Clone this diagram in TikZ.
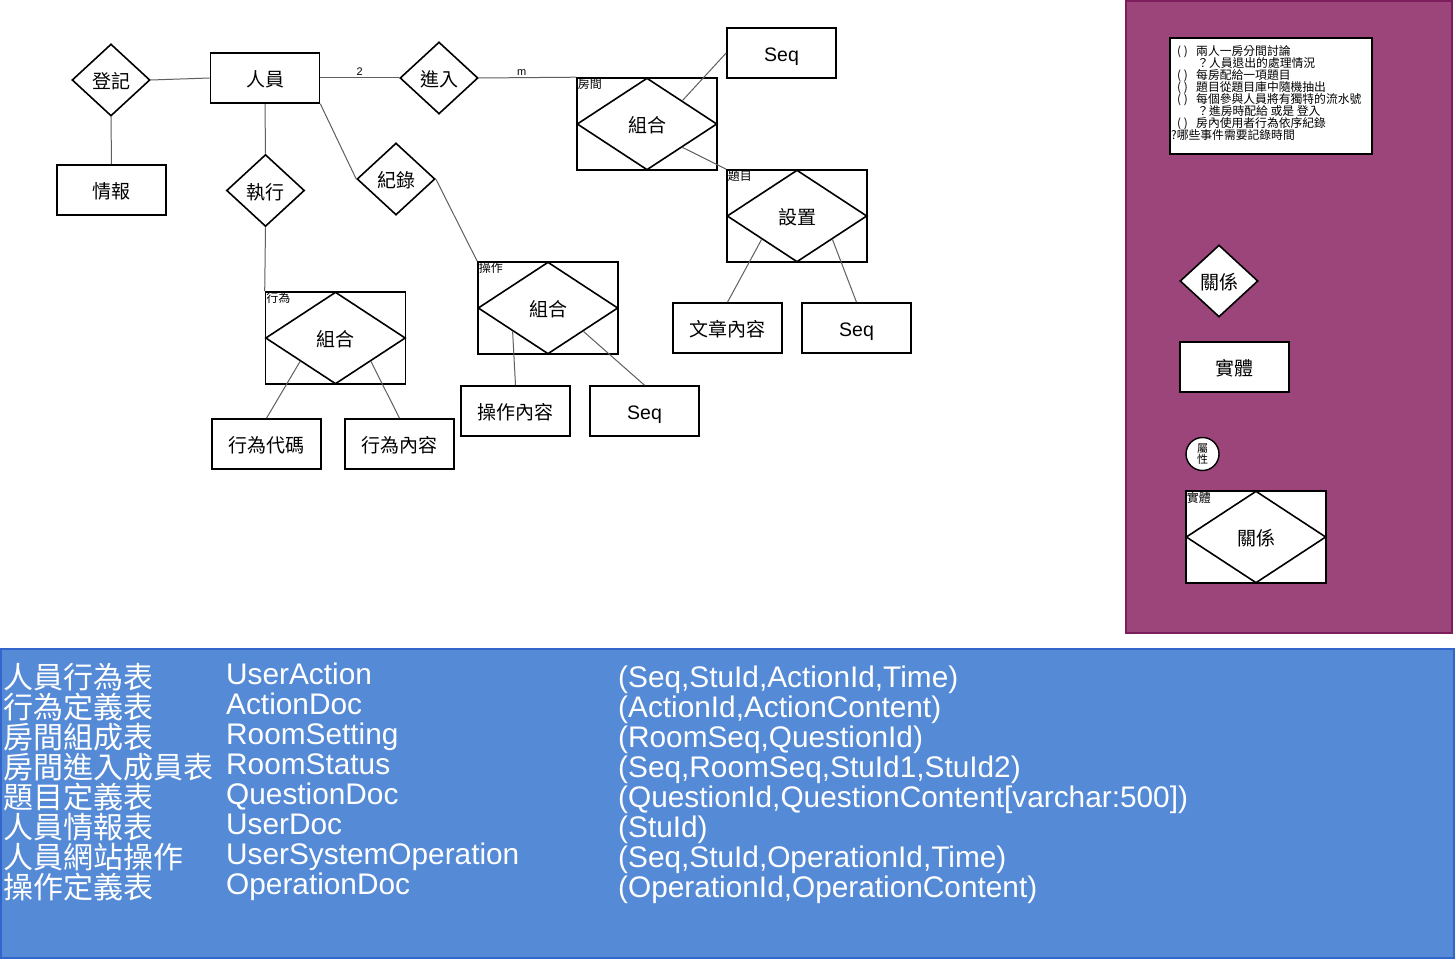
\documentclass[tikz,border=0pt]{standalone}
\usepackage{fontspec}
\setmainfont{Liberation Sans}
\newfontfamily\cjk{Noto Sans CJK TC}
\usetikzlibrary{shapes.geometric}
\definecolor{purp}{RGB}{155,69,123}
\definecolor{purpb}{RGB}{125,30,92}
\definecolor{bluef}{RGB}{85,138,214}
\definecolor{blueb}{RGB}{51,102,204}
\definecolor{connc}{RGB}{95,95,95}
\begin{document}
\begin{tikzpicture}[x=1pt,y=-1pt,
  ent/.style={draw=black, line width=1.6pt, fill=white, minimum width=109pt, minimum height=50pt, inner sep=0pt, text height=19.5pt, text depth=2.3pt, font=\cjk\fontsize{19}{19}\selectfont},
  seqbox/.style={ent, font=\fontsize{19.5}{19.5}\selectfont},
  rel/.style={diamond, draw=black, line width=1.6pt, fill=white, minimum width=78pt, minimum height=72pt, inner sep=0pt, text height=19.5pt, text depth=2.3pt, font=\cjk\fontsize{19}{19}\selectfont},
  agg/.style={draw=black, line width=1.6pt, fill=white, minimum width=140pt, minimum height=92pt, inner sep=0pt},
  aggd/.style={diamond, draw=black, line width=1.6pt, minimum width=140pt, minimum height=92pt, inner sep=0pt, text height=19.5pt, text depth=2.3pt, font=\cjk\fontsize{19}{19}\selectfont},
  corner/.style={anchor=north west, inner sep=1.5pt, font=\cjk\fontsize{12}{12}\selectfont},
  conn/.style={draw=connc, line width=1pt},
  card/.style={font=\fontsize{11}{11}\selectfont, inner sep=1pt},
  notel/.style={anchor=base west, inner sep=0pt, font=\cjk\fontsize{11.8}{12}\selectfont},
  zhcol/.style={anchor=base west, inner sep=0pt, text=white, font=\cjk\fontsize{30}{30}\selectfont},
  encol/.style={anchor=base west, inner sep=0pt, text=white, font=\fontsize{29.8}{30}\selectfont}
]
\useasboundingbox (0,0) rectangle (1456,960);
\fill[white] (0,0) rectangle (1456,960);

% legend panel
\draw[fill=purp, draw=purpb, line width=1.5pt] (1126,1) rectangle (1452,633);
\node[draw=black, line width=1.4pt, fill=white, minimum width=202pt, minimum height=116pt, inner sep=0pt] (note) at (1271,96) {};
\node[notel] (n1) at (1177,56) {\makebox[19pt][l]{( )}兩人一房分間討論};
\node[notel] (n2) at (1197,68) {？人員退出的處理情況};
\node[notel] (n3) at (1177,80) {\makebox[19pt][l]{( )}每房配給一項題目};
\node[notel] (n4) at (1177,92) {\makebox[19pt][l]{( )}題目從題目庫中隨機抽出};
\node[notel] (n5) at (1177,104) {\makebox[19pt][l]{( )}每個參與人員將有獨特的流水號};
\node[notel] (n6) at (1197,116) {？進房時配給 或是 登入};
\node[notel] (n7) at (1177,128) {\makebox[19pt][l]{( )}房內使用者行為依序紀錄};
\node[notel] (n8) at (1171,140) {?哪些事件需要記錄時間};

\node[rel] (lgrel) at (1219,281) {關係};
\node[ent] (lgent) at (1234.5,367) {實體};
\node[circle, draw=black, line width=1.4pt, fill=white, minimum size=33pt, inner sep=0pt, align=center, font=\cjk\fontsize{11}{11}\selectfont] (lgattr) at (1202.5,454) {屬\\性};
\node[agg] (lgagg) at (1256,537) {};
\node[aggd] (lgaggd) at (1256,537) {關係};
\node[corner] (lgaggl) at (lgagg.north west) {實體};

% ER diagram
\node[rel] (dj) at (111,80) {登記};
\node[ent] (person) at (265,78) {人員};
\node[ent] (info) at (111.5,190) {情報};
\node[rel] (zx) at (265.5,190.5) {執行};
\node[rel] (jl) at (396,179) {紀錄};
\node[rel] (jr) at (439,78) {進入};

\node[agg] (room) at (647,124) {};
\node[aggd] (roomd) at (647,124) {組合};
\node[corner] (rooml) at (room.north west) {房間};
\node[seqbox] (seq1) at (781.5,53) {Seq};

\node[agg] (topic) at (797,216) {};
\node[aggd] (topicd) at (797,216) {設置};
\node[corner] (topicl) at (topic.north west) {題目};
\node[ent] (wz) at (727.5,328) {文章內容};
\node[seqbox] (seq2) at (856.5,328) {Seq};

\node[agg] (act) at (335.5,338) {};
\node[aggd] (actd) at (335.5,338) {組合};
\node[corner] (actl) at (act.north west) {行為};
\node[ent] (acode) at (266.5,444) {行為代碼};
\node[ent] (acont) at (399.5,444) {行為內容};

\node[agg] (op) at (548,308) {};
\node[aggd] (opd) at (548,308) {組合};
\node[corner] (opl) at (op.north west) {操作};
\node[ent] (opc) at (515.5,411) {操作內容};
\node[seqbox] (seq3) at (644.5,411) {Seq};

% connectors
\draw[conn] (dj.east) -- (person.west);
\draw[conn] (dj.south) -- (info.north);
\draw[conn] (person.south) -- (zx.north);
\draw[conn] (zx.south) -- (act.north west);
\draw[conn] (person.south east) -- (jl.west);
\draw[conn] (jl.east) -- (op.north west);
\draw[conn] (person.east) -- node[card, above=1pt] (c2) {2} (jr.west);
\draw[conn] (jr.east) -- node[card, above=1pt, pos=0.44] (cm) {m} (room.north west);
\draw[conn] (roomd.north east) -- (seq1.west);
\draw[conn] (roomd.south east) -- (topic.north west);
\draw[conn] (topicd.south west) -- (wz.north);
\draw[conn] (topicd.south east) -- (seq2.north);
\draw[conn] (actd.south west) -- (acode.north);
\draw[conn] (actd.south east) -- (acont.north);
\draw[conn] (opd.south west) -- (opc.north);
\draw[conn] (opd.south east) -- (seq3.north);

% table panel
\draw[fill=bluef, draw=blueb, line width=1.5pt] (1,649) rectangle (1454,958);
\foreach \t [count=\i from 0] in {人員行為表,行為定義表,房間組成表,房間進入成員表,題目定義表,人員情報表,人員網站操作,操作定義表}
  \node[zhcol] (zh\i) at (3,688+30*\i) {\t};
\foreach \t [count=\i from 0] in {UserAction,ActionDoc,RoomSetting,RoomStatus,QuestionDoc,UserDoc,UserSystemOperation,OperationDoc}
  \node[encol] (en\i) at (226,684+30*\i) {\t};
\node[encol] (pa0) at (618,687) {(Seq,StuId,ActionId,Time)};
\node[encol] (pa1) at (618,717) {(ActionId,ActionContent)};
\node[encol] (pa2) at (618,747) {(RoomSeq,QuestionId)};
\node[encol] (pa3) at (618,777) {(Seq,RoomSeq,StuId1,StuId2)};
\node[encol] (pa4) at (618,807) {(QuestionId,QuestionContent[varchar:500])};
\node[encol] (pa5) at (618,837) {(StuId)};
\node[encol] (pa6) at (618,867) {(Seq,StuId,OperationId,Time)};
\node[encol] (pa7) at (618,897) {(OperationId,OperationContent)};
\end{tikzpicture}
\end{document}
